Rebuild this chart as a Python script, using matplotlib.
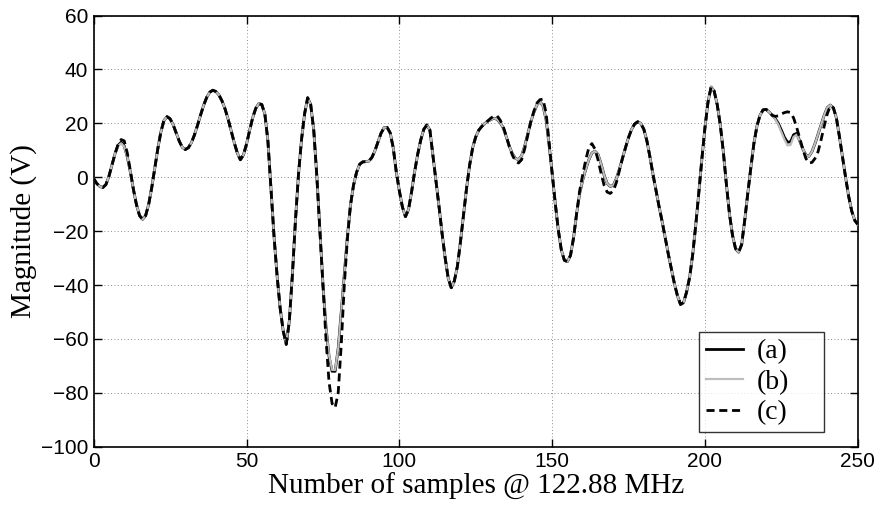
import matplotlib
matplotlib.use("Agg")
import matplotlib.pyplot as plt
import numpy as np

samples = list(range(0, 251))

series_a = [
    -0.5, -2.3, -3.4, -3.8, -2.7, 0.4, 4.6, 8.8, 11.9, 13.0,            # 0-9
    11.6, 7.6, 1.9, -4.5, -10.2, -14.2, -15.6, -14.2, -10.0, -3.8,      # 10-19
    3.5, 10.7, 16.9, 21.1, 22.5, 21.7, 19.5, 16.4, 13.4, 11.1,          # 20-29
    10.3, 11.0, 12.9, 15.8, 19.4, 23.2, 26.8, 29.7, 31.6, 32.3,         # 30-39
    31.8, 30.5, 28.3, 25.3, 21.5, 17.2, 12.8, 9.0, 6.5, 8.3,            # 40-49
    12.3, 17.3, 22.0, 25.5, 27.3, 27.0, 23.5, 13.5, -4.0, -21.8,        # 50-59
    -36.5, -48.5, -57.0, -62.0, -53.5, -36.4, -16.3, 1.0, 14.0, 23.5,   # 60-69
    29.5, 27.0, 17.5, 0.5, -19.5, -39.5, -55.5, -66.5, -72.0, -72.0,    # 70-79
    -63.5, -50.0, -36.0, -22.0, -10.5, -3.0, 1.8, 4.8, 5.7, 5.8,        # 80-89
    6.0, 7.3, 9.8, 13.0, 16.3, 18.4, 18.5, 16.5, 11.0, 2.0,             # 90-99
    -5.0, -11.0, -14.6, -12.0, -5.5, 2.0, 8.5, 13.8, 17.8, 19.4,        # 100-109
    17.5, 8.0, -1.5, -11.0, -21.0, -30.0, -37.5, -41.0, -38.5, -33.0,   # 110-119
    -24.0, -14.0, -4.0, 4.5, 11.0, 15.0, 17.5, 18.9, 20.0, 20.8,        # 120-129
    21.5, 21.9, 21.5, 20.3, 18.3, 15.0, 11.5, 8.7, 7.0, 6.5,            # 130-139
    8.0, 11.5, 16.0, 20.5, 24.0, 26.8, 28.1, 26.5, 21.5, 12.0,          # 140-149
    1.5, -9.5, -19.5, -27.0, -30.8, -31.3, -29.0, -22.5, -13.5, -6.0,   # 150-159
    -1.0, 3.0, 6.5, 9.0, 9.7, 8.5, 5.0, 0.8, -2.3, -3.4,                # 160-169
    -3.0, -0.5, 3.0, 7.0, 11.0, 14.8, 17.8, 19.8, 20.6, 20.0,           # 170-179
    17.8, 13.5, 7.5, 1.0, -5.0, -11.0, -16.5, -22.5, -28.5, -34.0,      # 180-189
    -39.5, -44.0, -47.2, -46.5, -42.5, -37.0, -28.5, -17.5, -5.5, 7.0,  # 190-199
    18.5, 28.0, 33.5, 32.0, 27.0, 19.5, 9.5, -2.5, -13.5, -21.5,        # 200-209
    -26.5, -27.8, -25.0, -16.0, -6.0, 3.5, 12.5, 19.0, 23.0, 25.0,      # 210-219
    25.2, 24.2, 23.0, 21.8, 20.0, 17.5, 14.8, 13.0, 13.2, 15.8,         # 220-229
    16.3, 13.5, 10.5, 8.3, 7.8, 9.5, 12.5, 16.0, 19.5, 23.0,            # 230-239
    25.8, 26.8, 25.8, 22.0, 15.0, 7.5, 0.0, -7.0, -12.5, -16.0,         # 240-249
    -17.5,                                                              # 250
]

series_b = [
    -0.5, -2.3, -3.4, -3.8, -2.7, 0.4, 4.6, 8.8, 11.7, 12.6,
    11.4, 7.6, 1.9, -4.5, -10.2, -14.2, -15.6, -14.2, -10.0, -3.8,
    3.5, 10.7, 16.9, 21.1, 22.5, 21.7, 19.5, 16.4, 13.4, 11.1,
    10.3, 11.0, 12.9, 15.8, 19.4, 23.2, 26.8, 29.7, 31.6, 32.3,
    31.8, 30.5, 28.3, 25.3, 21.5, 17.2, 12.8, 9.0, 6.5, 8.3,
    12.3, 17.3, 22.0, 25.5, 27.3, 27.0, 23.5, 13.5, -4.0, -21.8,
    -36.5, -48.5, -57.0, -61.5, -53.5, -36.4, -16.3, 1.0, 14.0, 23.5,
    29.5, 27.0, 17.5, 0.5, -19.5, -39.5, -55.5, -66.0, -71.5, -71.5,
    -63.5, -50.0, -36.0, -22.0, -10.5, -3.0, 1.8, 4.8, 5.7, 5.8,
    6.0, 7.3, 9.8, 13.0, 16.3, 18.4, 18.5, 16.5, 11.0, 2.0,
    -5.0, -11.0, -14.6, -12.0, -5.5, 2.0, 8.5, 13.8, 17.8, 19.4,
    17.5, 8.0, -1.5, -11.0, -21.0, -30.0, -37.5, -41.0, -38.5, -33.0,
    -24.0, -14.0, -4.0, 4.5, 11.0, 15.0, 17.5, 18.9, 20.0, 20.8,
    21.5, 21.9, 21.5, 20.3, 18.3, 15.0, 11.5, 8.7, 7.0, 6.5,
    8.0, 11.5, 16.0, 20.5, 24.0, 26.8, 28.1, 26.5, 21.5, 12.0,
    1.5, -9.5, -19.5, -27.0, -30.8, -31.3, -29.0, -22.5, -13.5, -6.0,
    -1.0, 3.0, 6.5, 9.0, 9.7, 8.5, 5.0, 0.8, -2.3, -3.4,
    -3.0, -0.5, 3.0, 7.0, 11.0, 14.8, 17.8, 19.8, 20.6, 20.0,
    17.8, 13.5, 7.5, 1.0, -5.0, -11.0, -16.5, -22.5, -28.5, -34.0,
    -39.5, -44.0, -47.2, -46.5, -42.5, -37.0, -28.5, -17.5, -5.5, 7.0,
    18.5, 28.0, 33.5, 32.0, 27.0, 19.5, 9.5, -2.5, -13.5, -21.5,
    -26.5, -27.8, -25.0, -16.0, -6.0, 3.5, 12.5, 19.0, 23.0, 25.0,
    25.2, 24.2, 23.0, 21.5, 19.5, 16.8, 14.0, 11.8, 12.0, 15.0,
    15.8, 13.5, 10.5, 8.3, 7.8, 9.5, 12.5, 16.0, 19.5, 23.0,
    25.8, 26.8, 25.8, 22.0, 15.0, 7.5, 0.0, -7.0, -12.5, -16.0,
    -17.5,
]

series_c = [
    -0.5, -2.3, -3.4, -3.8, -2.7, 0.4, 4.6, 8.8, 12.3, 14.0,
    13.5, 9.0, 2.5, -4.5, -10.2, -14.2, -15.6, -14.2, -10.0, -3.8,
    3.5, 10.7, 16.9, 21.1, 22.5, 21.7, 19.5, 16.4, 13.4, 11.1,
    10.3, 11.0, 12.9, 15.8, 19.4, 23.2, 26.8, 29.7, 31.6, 32.3,
    31.8, 30.5, 28.3, 25.3, 21.5, 17.2, 12.8, 9.0, 6.5, 8.3,
    12.3, 17.3, 22.0, 25.5, 27.3, 27.0, 23.5, 13.5, -4.0, -21.8,
    -36.5, -48.5, -57.0, -62.0, -53.5, -36.4, -16.3, 1.0, 14.0, 23.5,
    29.5, 27.0, 17.5, 0.5, -19.5, -40.0, -60.0, -76.0, -84.0, -85.5,
    -80.0, -62.0, -40.0, -23.0, -10.5, -3.0, 1.8, 4.8, 5.7, 5.8,
    6.0, 7.3, 9.8, 13.0, 16.3, 18.4, 18.5, 16.5, 11.0, 2.0,
    -5.0, -11.0, -14.6, -12.0, -5.5, 2.0, 8.5, 13.8, 17.8, 19.4,
    17.5, 8.0, -1.5, -11.0, -21.0, -30.0, -37.5, -41.0, -38.5, -33.0,
    -24.0, -14.0, -4.0, 4.5, 11.0, 15.0, 17.5, 18.9, 20.0, 21.0,
    22.0, 22.8, 22.8, 21.2, 18.8, 15.2, 11.3, 8.2, 6.0, 5.3,
    6.5, 10.5, 15.5, 20.5, 24.5, 27.5, 28.8, 29.0, 24.0, 13.0,
    1.5, -9.5, -19.5, -27.0, -30.8, -31.3, -29.0, -22.5, -13.5, -5.0,
    1.0, 6.5, 11.0, 12.5, 10.5, 6.5, 1.5, -3.0, -5.5, -6.0,
    -5.0, -2.0, 2.5, 7.0, 11.0, 14.8, 17.8, 19.8, 20.6, 20.0,
    17.8, 13.5, 7.5, 1.0, -5.0, -11.0, -16.5, -22.5, -28.5, -34.0,
    -39.5, -44.0, -47.2, -46.5, -42.5, -37.0, -28.5, -17.5, -5.5, 7.0,
    18.5, 28.0, 33.5, 32.0, 27.0, 19.5, 9.5, -2.5, -13.5, -21.5,
    -26.5, -27.8, -25.0, -16.0, -6.0, 3.5, 12.5, 19.0, 23.0, 25.0,
    25.2, 24.2, 23.0, 22.6, 22.8, 23.5, 24.0, 24.3, 24.0, 22.0,
    18.5, 14.5, 10.5, 7.0, 5.3, 5.5, 7.0, 9.5, 14.0, 19.0,
    23.5, 26.5, 25.8, 22.0, 15.0, 7.5, 0.0, -7.0, -12.5, -16.0,
    -17.5,
]

labels = ["(a)", "(b)", "(c)"]
x_ticks = [0, 50, 100, 150, 200, 250]
y_ticks = [-100, -80, -60, -40, -20, 0, 20, 40, 60]

serif = ["Liberation Serif", "DejaVu Serif"]
sans = ["Liberation Sans", "DejaVu Sans"]

fig = plt.figure(figsize=(8.78, 5.05), dpi=100)
ax = fig.add_axes([0.1067, 0.1154, 0.8703, 0.8537])

ax.plot(samples, series_a, color="black", lw=2.0, label=labels[0], zorder=3)
ax.plot(samples, series_b, color="#bdbdbd", lw=1.6, label=labels[1], zorder=4)
ax.plot(samples, series_c, color="black", lw=2.0, ls=(0, (2.9, 1.7)), label=labels[2], zorder=5)

ax.set_xlim(0, 250)
ax.set_ylim(-100, 60)
ax.set_xticks(x_ticks)
ax.set_yticks(y_ticks)
ax.set_xticklabels([str(t) for t in x_ticks], fontfamily=sans, fontsize=15)
ax.set_yticklabels([("\u2212" + str(-t)) if t < 0 else str(t) for t in y_ticks],
                   fontfamily=sans, fontsize=15)
ax.tick_params(direction="in", length=6, width=1, top=True, right=True, pad=4, colors="black")
ax.grid(True, ls=(0, (1, 3)), color="black", lw=0.6, alpha=0.6)
for s in ax.spines.values():
    s.set_linewidth(1.2)

ax.set_xlabel("Number of samples @ 122.88 MHz", fontfamily=serif, fontsize=21, labelpad=1)
ax.set_ylabel("Magnitude (V)", fontfamily=serif, fontsize=21, labelpad=3)

leg = ax.legend(loc="lower left", mode="expand", prop={"family": serif, "size": 20},
                frameon=True, fancybox=False, edgecolor="black", handlelength=1.35,
                borderpad=0.25, labelspacing=0.18, handletextpad=0.5,
                borderaxespad=0.0, bbox_to_anchor=(0.792, 0.0334, 0.1638, 0.2334))
leg.get_frame().set_linewidth(1.0)

fig.savefig("out.png", dpi=100)
